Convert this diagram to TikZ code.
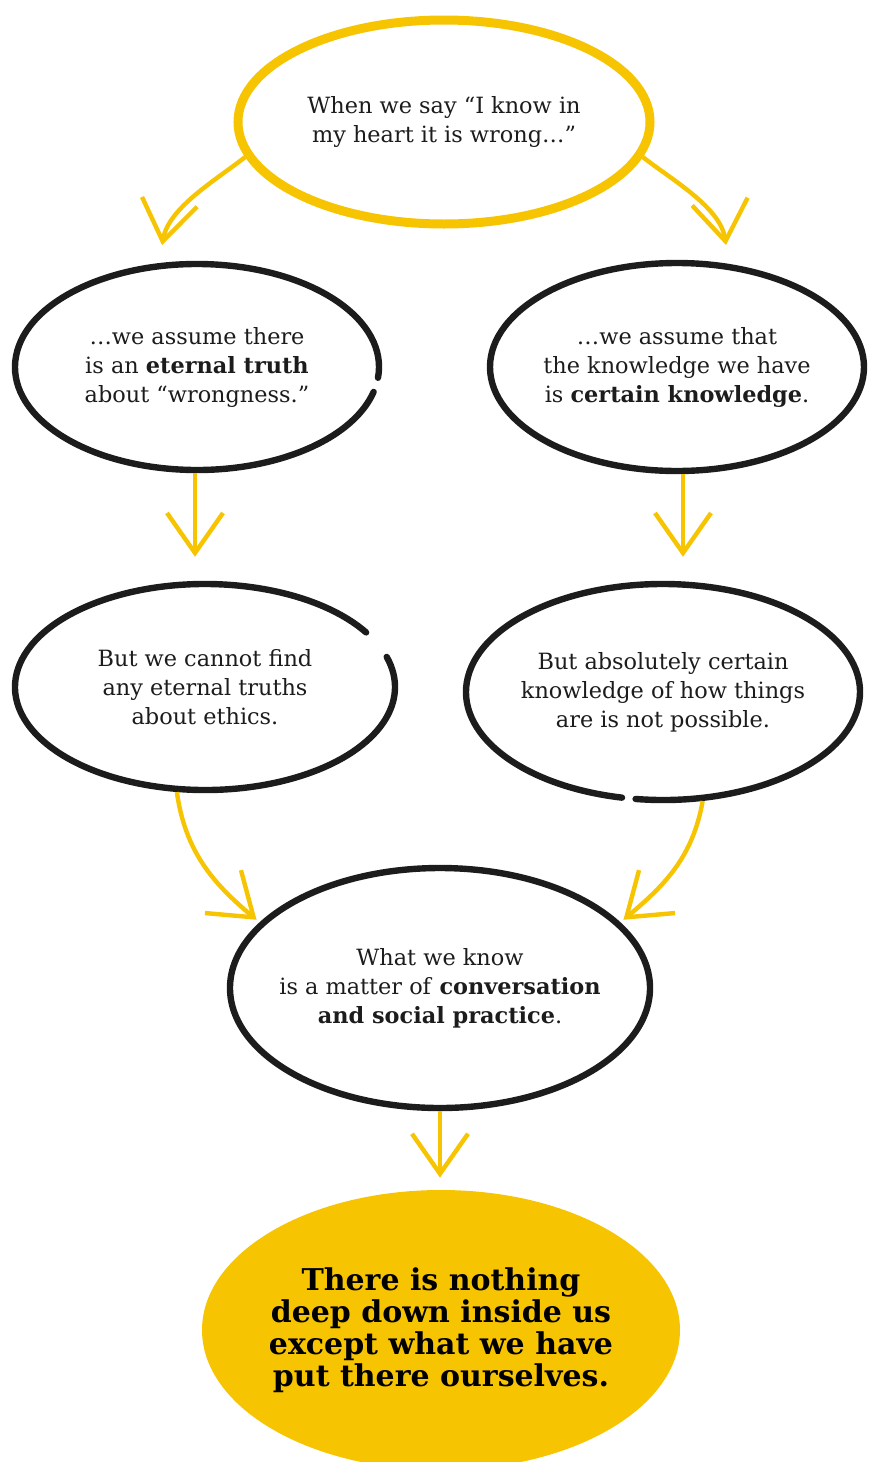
\documentclass[tikz,border=0pt]{standalone}
\usepackage{fontspec}
\setmainfont{DejaVu Serif}
\usetikzlibrary{shapes.geometric,arrows.meta}
\definecolor{sun}{RGB}{246,196,0}
\definecolor{ink}{RGB}{28,28,28}

\begin{document}
\begin{tikzpicture}[x=0.5pt,y=0.5pt]
        \tikzset{bubble/.style={ellipse, draw=ink, line width=3.2pt, inner sep=0pt},
                 rim/.style={draw=ink, line width=3.2pt, line cap=round},
                 words/.style={align=center, text=ink, font=\fontsize{11.2}{14.5}\selectfont},
                 flow/.style={-{Straight Barb[length=20pt, width=28pt]}, draw=sun, line width=2.2pt}}
        \useasboundingbox (0,0) rectangle (870,-1462);
        % top question
        \node[bubble, draw=sun, line width=4.5pt, minimum width=206pt, minimum height=102pt] (say) at (444,-122) {};
        \node[words] (sayt) at (say) {When we say “I know in\\my heart it is wrong\dots”};
        
        % the two assumptions
        \node[bubble, draw=none, minimum width=182pt, minimum height=103pt] (truth) at (197,-367) {};
        \draw[rim] ([shift={(-6:182 and 103)}]truth.center) arc[start angle=-6, end angle=346, x radius=182, y radius=103];
        \node[words] (trutht) at (truth) {\dots we assume there\\is an \textbf{eternal truth}\\about “wrongness.”};
        \node[bubble, minimum width=187pt, minimum height=104pt] (sure) at (677,-367) {};
        \node[words] (suret) at (sure) {\dots we assume that\\the knowledge we have\\is \textbf{certain knowledge}.};
        
        % the two objections
        \node[bubble, draw=none, minimum width=190pt, minimum height=103pt] (nofind) at (205,-687) {};
        \draw[rim] ([shift={(32:190 and 103)}]nofind.center) arc[start angle=32, end angle=377, x radius=190, y radius=103];
        \node[words] (nofindt) at (nofind) {But we cannot find\\any eternal truths\\about ethics.};
        \node[bubble, draw=none, minimum width=197pt, minimum height=108pt] (noway) at (663,-692) {};
        \draw[rim] ([shift={(262:197 and 108)}]noway.center) arc[start angle=262, end angle=618, x radius=197, y radius=108];
        \node[words] (nowayt) at (noway) {But absolutely certain\\knowledge of how things\\are is not possible.};
        
        % what is left
        \node[bubble, minimum width=210pt, minimum height=120pt] (talk) at (440,-988) {};
        \node[words] (talkt) at (talk) {What we know\\is a matter of \textbf{conversation}\\\textbf{and social practice}.};
        
        \node[ellipse, fill=sun, inner sep=0pt, minimum width=239pt, minimum height=140pt] (inside) at (441,-1330) {};
        \node[align=center, text=black, font=\fontsize{15}{16}\selectfont\bfseries] (insidet) at (inside)
            {There is nothing\\deep down inside us\\except what we have\\put there ourselves.};
        
        % arrows
        \coordinate (tipL) at (162,-245);
        \coordinate (tipR) at (726,-245);
        \draw[flow] (say.190) to[out=218, in=80, looseness=0.8] (tipL);
        \draw[flow] (say.350) to[out=-38, in=98, looseness=0.8] (tipR);
        \draw[flow, shorten >=12pt] ([xshift=-1pt]truth.south) -- ([xshift=-1pt]truth.south |- nofind.north);
        \draw[flow, shorten >=12pt] ([xshift=3pt]sure.south) -- ([xshift=3pt]sure.south |- noway.north);
        \draw[flow, shorten >=2pt] (nofind.255) to[out=-82, in=140] (talk.160);
        \draw[flow, shorten >=2pt] (noway.290) to[out=-100, in=40] (talk.20);
        \draw[flow, shorten >=6pt] (talk.south) -- (talk.south |- inside.north);
\end{tikzpicture}
\end{document}
